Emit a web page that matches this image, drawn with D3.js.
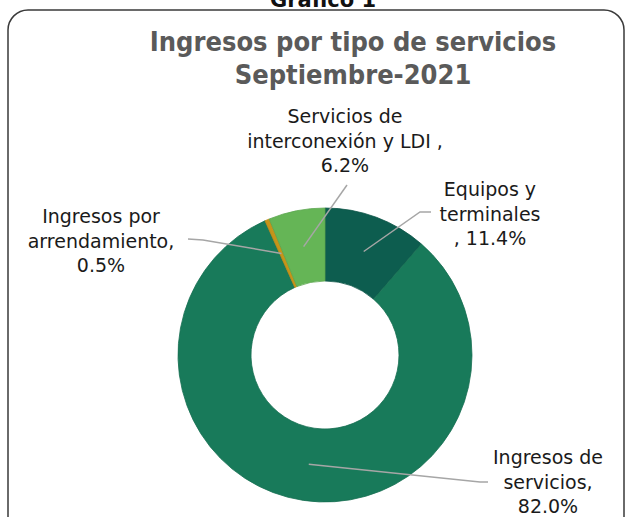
<!DOCTYPE html>
<html>
<head>
<meta charset="utf-8">
<script src="https://cdn.jsdelivr.net/npm/d3@7/dist/d3.min.js"></script>
<style>
  body { margin: 0; background: #fff; }
  svg { display: block; }
</style>
</head>
<body>
<div class="chart"></div>
<script>
// datos del gráfico (orden horario desde las 12)
const categorias = ['Equipos y terminales', 'Ingresos de servicios', 'Ingresos por arrendamiento', 'Servicios de interconexión y LDI'];
const porcentajes = [11.4, 82.0, 0.5, 6.2];
const etiquetas = [
  ['Equipos y', 'terminales', ', {v}'],
  ['Ingresos de', 'servicios,', '{v}'],
  ['Ingresos por', 'arrendamiento,', '{v}'],
  ['Servicios de', 'interconexión y LDI ,', '{v}']
];
const colores = ['#0e6656', '#1a8562', '#d9a21b', '#6ec65e'];

const w = 629;
const h = 517;
const cx = 325, cy = 355;
const rOut = 147, rIn = 74;

// posiciones de etiquetas y codos de las líneas guía
const layout = [
  {x: 490, y: 196, codo: [[420, 212], [431, 212]]},
  {x: 548, y: 464, codo: [[480, 482], [488, 482]]},
  {x: 101, y: 223, codo: [[203, 240], [188, 239]]},
  {x: 345, y: 123, codo: [[347, 185]]}
];
const lineH = 24.5;

const svg = d3.select('div.chart')
  .append('svg')
  .attr('width', w)
  .attr('height', h);

// marco redondeado
svg.append('rect')
  .attr('x', 8).attr('y', 10)
  .attr('width', 616).attr('height', 560)
  .attr('rx', 20).attr('ry', 20)
  .attr('fill', 'none')
  .attr('stroke', '#3a3a3a')
  .attr('stroke-width', 1.5);

svg.append('text')
  .text('Gráfico 1')
  .attr('x', 323).attr('y', 7)
  .attr('text-anchor', 'middle')
  .attr('font-family', 'DejaVu Sans')
  .attr('font-weight', 'bold')
  .attr('font-size', 21)
  .attr('fill', '#111');

const titulo = ['Ingresos por tipo de servicios', 'Septiembre-2021'];
svg.selectAll('text.titulo')
  .data(titulo)
  .enter()
  .append('text')
  .attr('class', 'titulo')
  .text(d => d)
  .attr('x', 353)
  .attr('y', (d, i) => 51 + i * 33)
  .attr('text-anchor', 'middle')
  .attr('font-family', 'DejaVu Sans Condensed, DejaVu Sans')
  .attr('font-weight', 'bold')
  .attr('font-size', 27)
  .attr('fill', '#5a5a5a');

// degradados para dar algo de relieve
const defs = svg.append('defs');
colores.forEach((c, i) => {
  const g = defs.append('radialGradient')
    .attr('id', 'grad' + i)
    .attr('gradientUnits', 'userSpaceOnUse')
    .attr('cx', cx).attr('cy', cy).attr('r', rOut);
  const base = d3.color(c);
  g.append('stop').attr('offset', rIn / rOut).attr('stop-color', base.darker(0.35));
  g.append('stop').attr('offset', (rIn + 6) / rOut).attr('stop-color', base);
  g.append('stop').attr('offset', 0.92).attr('stop-color', base.brighter(0.1));
  g.append('stop').attr('offset', 1).attr('stop-color', base.darker(0.25));
});

const pie = d3.pie().sort(null).value(d => d);
const arcs = pie(porcentajes);
const arc = d3.arc().innerRadius(rIn).outerRadius(rOut);

const g = svg.append('g').attr('transform', 'translate(' + cx + ',' + cy + ')');

g.selectAll('path')
  .data(arcs)
  .enter()
  .append('path')
  .attr('d', arc)
  .attr('fill', (d, i) => 'url(#grad' + i + ')')
  .attr('stroke', (d, i) => d3.color(colores[i]).darker(0.5))
  .attr('stroke-width', 0.8);

// líneas guía
const linea = d3.line();
arcs.forEach((d, i) => {
  const c = arc.centroid(d);
  const pts = [[cx + c[0], cy + c[1]]].concat(layout[i].codo);
  svg.append('path')
    .attr('d', linea(pts))
    .attr('fill', 'none')
    .attr('stroke', '#a6a6a6')
    .attr('stroke-width', 1.5);
});

// etiquetas
const fmt = d3.format('.1f');
etiquetas.forEach((lineas, i) => {
  const t = svg.append('text')
    .attr('text-anchor', 'middle')
    .attr('font-family', 'DejaVu Sans')
    .attr('font-size', 19)
    .attr('fill', '#1a1a1a');
  lineas.forEach((l, j) => {
    t.append('tspan')
      .attr('x', layout[i].x)
      .attr('y', layout[i].y + j * lineH)
      .text(l.replace('{v}', fmt(porcentajes[i]) + '%'));
  });
});
</script>
</body>
</html>
